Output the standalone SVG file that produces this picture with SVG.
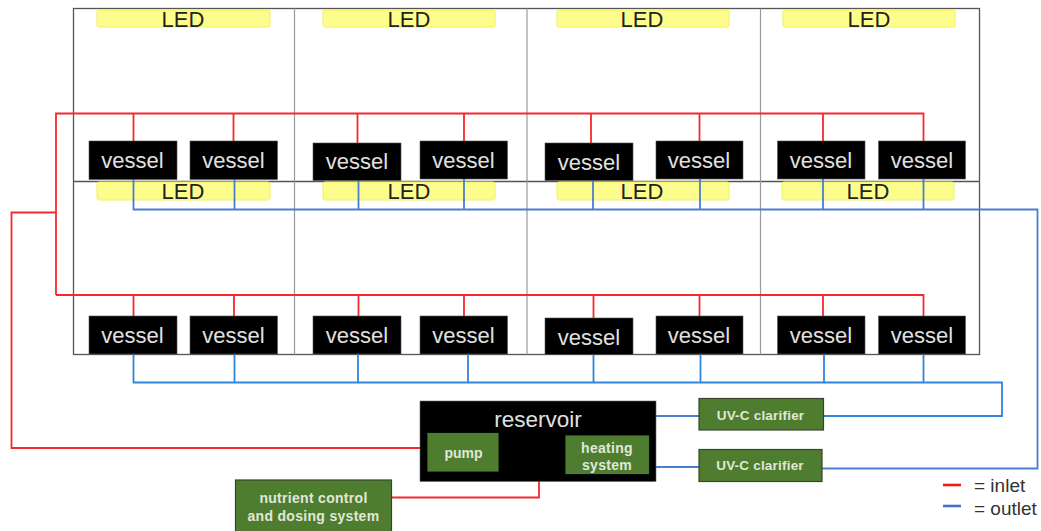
<svg xmlns="http://www.w3.org/2000/svg" width="1041" height="531" viewBox="0 0 1041 531">
<style>
text{font-family:"Liberation Sans",Arial,sans-serif;text-anchor:middle}
.v rect{fill:#000;stroke:#555;stroke-width:.6}
.v text{fill:#e0e0e0;font-size:22px}
.l rect{fill:#fdfd8e;stroke:#f2f25a;stroke-width:1}
.l text{fill:#222;font-size:22px}
.g rect{fill:#4f7d2f;stroke:#38452c;stroke-width:1.2}
.g text{fill:#e0e8d8;font-size:14px;font-weight:bold}
.fr{fill:none;stroke:#555;stroke-width:1.3}
.dv{stroke:#9a9a9a;stroke-width:1.2;fill:none}
.r{fill:none;stroke:#f5282d;stroke-width:1.8}
.b{fill:none;stroke:#4a7fd0;stroke-width:1.8}
.b2{fill:none;stroke:#2f86d8;stroke-width:1.8}
</style>
<g id="frame">
<rect class="fr" x="73.500" y="8.500" width="906" height="346"/>
<path class="fr" d="M73.500 181.500H979.500"/>
<path class="dv" d="M294.500 8.500V354.500M527 8.500V354.500M760.500 8.500V354.500"/>
</g>
<g id="leds" class="l">
<g id="led1"><rect x="97" y="10" width="173" height="17" rx="2"/><text x="183" y="26.500">LED</text></g>
<g id="led2"><rect x="323" y="10" width="172" height="17" rx="2"/><text x="409" y="26.500">LED</text></g>
<g id="led3"><rect x="557" y="10" width="172" height="17" rx="2"/><text x="642" y="26.500">LED</text></g>
<g id="led4"><rect x="783" y="10" width="172" height="17" rx="2"/><text x="869" y="26.500">LED</text></g>
<g id="led5"><rect x="97" y="182" width="173" height="18" rx="2"/><text x="183" y="199">LED</text></g>
<g id="led6"><rect x="323" y="182" width="172" height="18" rx="2"/><text x="409" y="199">LED</text></g>
<g id="led7"><rect x="557" y="182" width="172" height="18" rx="2"/><text x="642" y="199">LED</text></g>
<g id="led8"><rect x="782" y="182" width="172" height="18" rx="2"/><text x="868" y="199">LED</text></g>
</g>
<g id="connectors">
<path class="r" d="M420 448H11.500V212.500H56M56 295V113.500H923.500V141M133.500 113.500V141M233.500 113.500V141M357.500 113.500V143M464 113.500V141M591 113.500V143M699.500 113.500V141M823 113.500V141"/>
<path class="r" d="M56 295H923.500V316M133.500 295V316M234 295V316M358.500 295V316M464 295V316M593.500 295V318M699.500 295V316M823 295V316"/>
<path class="b" d="M133.500 179V209.500H1037.500V468.500H822M234.500 179V209.500M358.500 179V209.500M464 179V209.500M593 179V209.500M700 179V209.500M823 179V209.500M923.500 179V209.500"/>
<path class="b2" d="M133.500 354V382.500H1002V416H824M234.500 354V382.500M358 354V382.500M468 354V382.500M593.500 354V382.500M700.500 354V382.500M824 354V382.500M923.500 354V382.500"/>
<path class="b" d="M656 416H699M656 467H699"/>
<path class="r" d="M392 497.500H539V481"/>
</g>
<g id="vessels" class="v">
<g id="v1"><rect x="89" y="141" width="88" height="38.500"/><text x="132.500" y="168">vessel</text></g>
<g id="v2"><rect x="190" y="141" width="87.500" height="38.500"/><text x="233.500" y="168">vessel</text></g>
<g id="v3"><rect x="313" y="143" width="88" height="37.500"/><text x="357" y="169">vessel</text></g>
<g id="v4"><rect x="420" y="141" width="87.500" height="38"/><text x="463.500" y="168">vessel</text></g>
<g id="v5"><rect x="545" y="143" width="88" height="37.500"/><text x="589" y="170">vessel</text></g>
<g id="v6"><rect x="656" y="141" width="87" height="38"/><text x="699" y="168">vessel</text></g>
<g id="v7"><rect x="777.500" y="141" width="87.500" height="38"/><text x="821" y="168">vessel</text></g>
<g id="v8"><rect x="878.500" y="141" width="87" height="38"/><text x="922" y="168">vessel</text></g>
<g id="v9"><rect x="89" y="316" width="88" height="38"/><text x="132.500" y="343">vessel</text></g>
<g id="v10"><rect x="190" y="316" width="87.500" height="38"/><text x="233.500" y="343">vessel</text></g>
<g id="v11"><rect x="313" y="316" width="88" height="38"/><text x="357" y="343">vessel</text></g>
<g id="v12"><rect x="420" y="316" width="87.500" height="38"/><text x="463.500" y="343">vessel</text></g>
<g id="v13"><rect x="545" y="318" width="88" height="36.500"/><text x="589" y="345">vessel</text></g>
<g id="v14"><rect x="656" y="316" width="87" height="38"/><text x="699" y="343">vessel</text></g>
<g id="v15"><rect x="777.500" y="316" width="87.500" height="38"/><text x="821" y="343">vessel</text></g>
<g id="v16"><rect x="878.500" y="316" width="87" height="38"/><text x="922" y="343">vessel</text></g>
</g>
<g id="reservoir">
<rect x="420" y="401" width="236" height="80.500" fill="#000" stroke="#666" stroke-width=".6"/>
<text x="538" y="427" fill="#e0e0e0" font-size="22.500">reservoir</text>
</g>
<g id="pump" class="g"><rect x="428" y="433.500" width="70" height="37.500" style="stroke:#4f7d2f"/><text x="463.500" y="457.500">pump</text></g>
<g id="heating" class="g"><rect x="566" y="436" width="82.500" height="37.500" style="stroke:#4f7d2f"/><text x="607" y="452.500" letter-spacing=".3">heating</text><text x="607" y="469.500" letter-spacing=".3">system</text></g>
<g id="uv1" class="g"><rect x="699" y="398.500" width="124.500" height="31.500"/><text x="760.500" y="420" style="font-size:13.500px" letter-spacing=".2">UV-C clarifier</text></g>
<g id="uv2" class="g"><rect x="699" y="449.500" width="123" height="32"/><text x="760" y="470" style="font-size:13.500px" letter-spacing=".2">UV-C clarifier</text></g>
<g id="nutrient" class="g"><rect x="235.500" y="480" width="156" height="52"/><text x="313.500" y="503" letter-spacing=".3">nutrient control</text><text x="313.500" y="521" letter-spacing=".3">and dosing system</text></g>
<g id="legend">
<path d="M943 485H961" stroke="#f01c1c" stroke-width="2.600"/>
<path d="M943 506H961" stroke="#4472c8" stroke-width="2.600"/>
<text x="974" y="491.500" font-size="19" fill="#333" style="text-anchor:start">= inlet</text>
<text x="974" y="514.500" font-size="19" fill="#333" style="text-anchor:start">= outlet</text>
</g>
</svg>
